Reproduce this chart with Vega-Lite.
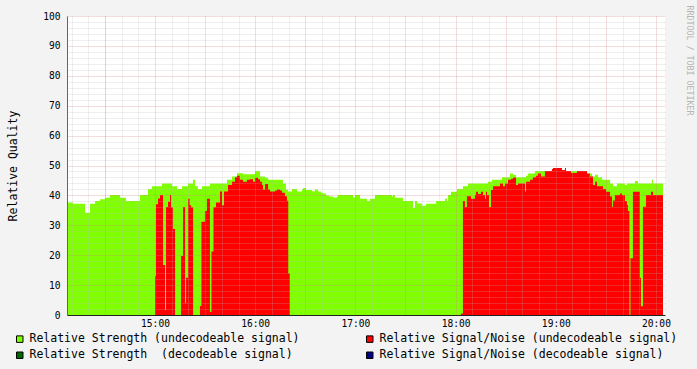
{
  "$schema": "https://vega.github.io/schema/vega-lite/v6.json",
  "width": 598,
  "height": 299,
  "autosize": "none",
  "padding": {"left": 67, "top": 16, "right": 32, "bottom": 54},
  "background": "#f3f3f3",
  "datasets": {
    "strength": [
      {"t": 847.3, "v": 38}, {"t": 847.9, "v": 37.6}, {"t": 850.9, "v": 37.2}, {"t": 858.1, "v": 34.2},
      {"t": 861.1, "v": 37.2}, {"t": 864.1, "v": 38.1}, {"t": 867.1, "v": 38.7}, {"t": 870.1, "v": 39.2},
      {"t": 873.1, "v": 40.1}, {"t": 879.0, "v": 39.2}, {"t": 882.6, "v": 38.1}, {"t": 891.0, "v": 40.1},
      {"t": 895.8, "v": 42.1}, {"t": 898.2, "v": 43.1}, {"t": 904.2, "v": 44.0}, {"t": 910.2, "v": 43.1},
      {"t": 913.2, "v": 42.1}, {"t": 916.2, "v": 43.1}, {"t": 919.8, "v": 44.0}, {"t": 922.8, "v": 45.2},
      {"t": 924.0, "v": 43.1}, {"t": 925.7, "v": 42.1}, {"t": 928.1, "v": 43.1}, {"t": 932.9, "v": 44.0},
      {"t": 943.1, "v": 45.2}, {"t": 946.1, "v": 46.3}, {"t": 949.1, "v": 47.4}, {"t": 952.7, "v": 47.1},
      {"t": 959.9, "v": 48.2}, {"t": 962.9, "v": 46.3}, {"t": 965.9, "v": 45.9}, {"t": 967.7, "v": 45.2},
      {"t": 976.6, "v": 44.0}, {"t": 978.4, "v": 42.0}, {"t": 979.6, "v": 41.3}, {"t": 982.0, "v": 42.1},
      {"t": 985.0, "v": 41.3}, {"t": 988.0, "v": 42.0}, {"t": 988.6, "v": 42.5}, {"t": 990.4, "v": 41.8},
      {"t": 994.0, "v": 41.4}, {"t": 995.8, "v": 42.0}, {"t": 997.6, "v": 41.3}, {"t": 999.4, "v": 40.9},
      {"t": 1000.6, "v": 40.6}, {"t": 1002.4, "v": 40.0}, {"t": 1004.2, "v": 39.6}, {"t": 1006.6, "v": 39.3},
      {"t": 1009.0, "v": 39.6}, {"t": 1009.6, "v": 40.1}, {"t": 1018.6, "v": 39.3}, {"t": 1019.8, "v": 40.1},
      {"t": 1022.8, "v": 38.9}, {"t": 1026.9, "v": 38.1}, {"t": 1028.7, "v": 38.9}, {"t": 1031.7, "v": 40.1},
      {"t": 1041.9, "v": 39.6}, {"t": 1042.5, "v": 40.1}, {"t": 1043.7, "v": 39.2}, {"t": 1048.5, "v": 38.1},
      {"t": 1054.5, "v": 35.8}, {"t": 1055.7, "v": 38.1}, {"t": 1056.9, "v": 37.3}, {"t": 1059.9, "v": 36.5},
      {"t": 1062.3, "v": 37.2}, {"t": 1068.3, "v": 38.1}, {"t": 1073.7, "v": 38.9}, {"t": 1074.9, "v": 38.1},
      {"t": 1075.5, "v": 40.1}, {"t": 1077.2, "v": 41.2}, {"t": 1080.8, "v": 42.1}, {"t": 1084.4, "v": 43.1},
      {"t": 1087.4, "v": 44.0}, {"t": 1099.4, "v": 44.6}, {"t": 1101.8, "v": 45.2}, {"t": 1107.8, "v": 46.1},
      {"t": 1112.6, "v": 47.3}, {"t": 1114.4, "v": 46.8}, {"t": 1116.2, "v": 46.1}, {"t": 1122.2, "v": 46.6},
      {"t": 1123.4, "v": 47.3}, {"t": 1127.5, "v": 48.2}, {"t": 1137.7, "v": 48.8}, {"t": 1138.3, "v": 49.2},
      {"t": 1143.7, "v": 48.5}, {"t": 1145.5, "v": 49.2}, {"t": 1146.1, "v": 48.2}, {"t": 1158.1, "v": 47.3},
      {"t": 1161.7, "v": 46.3}, {"t": 1163.5, "v": 46.9}, {"t": 1165.3, "v": 46.1}, {"t": 1167.7, "v": 45.2},
      {"t": 1172.5, "v": 44.0}, {"t": 1174.3, "v": 43.1}, {"t": 1176.6, "v": 44.0}, {"t": 1181.4, "v": 43.5},
      {"t": 1182.6, "v": 44.0}, {"t": 1187.4, "v": 44.8}, {"t": 1189.2, "v": 44.0}, {"t": 1197.6, "v": 45.2},
      {"t": 1198.2, "v": 44.0}, {"t": 1204.2, "v": 44.0}
    ],
    "snr": [
      {"t": 900.0, "v": 13}, {"t": 900.6, "v": 37}, {"t": 901.8, "v": 39}, {"t": 903.0, "v": 40.1},
      {"t": 904.8, "v": 16.7}, {"t": 906.0, "v": 1.7}, {"t": 906.6, "v": 36.1}, {"t": 907.8, "v": 37.9},
      {"t": 909.0, "v": 40.1}, {"t": 909.6, "v": 36}, {"t": 910.8, "v": 28.8}, {"t": 912.0, "v": 0},
      {"t": 915.6, "v": 19.7}, {"t": 916.8, "v": 36.1}, {"t": 918.0, "v": 3.9}, {"t": 918.6, "v": 12.5},
      {"t": 919.8, "v": 38.9}, {"t": 920.7, "v": 36.7}, {"t": 921.6, "v": 36}, {"t": 922.8, "v": 0},
      {"t": 926.9, "v": 3}, {"t": 927.8, "v": 31.2}, {"t": 929.9, "v": 34.8}, {"t": 931.1, "v": 38.9},
      {"t": 932.9, "v": 1}, {"t": 933.8, "v": 21.2}, {"t": 935.0, "v": 36}, {"t": 936.5, "v": 37.6},
      {"t": 938.9, "v": 41.3}, {"t": 940.1, "v": 36.7}, {"t": 941.3, "v": 41.3}, {"t": 943.7, "v": 43.5},
      {"t": 946.1, "v": 44.6}, {"t": 947.9, "v": 46.1}, {"t": 949.1, "v": 46.6}, {"t": 950.9, "v": 45.2},
      {"t": 952.7, "v": 44.6}, {"t": 955.1, "v": 45.2}, {"t": 956.9, "v": 45.4}, {"t": 958.7, "v": 44.6},
      {"t": 959.9, "v": 45.9}, {"t": 961.7, "v": 45.4}, {"t": 962.9, "v": 44.6}, {"t": 964.1, "v": 43.5},
      {"t": 964.7, "v": 42}, {"t": 965.9, "v": 43.8}, {"t": 967.7, "v": 42}, {"t": 968.9, "v": 41.3},
      {"t": 971.9, "v": 41.6}, {"t": 973.1, "v": 42}, {"t": 974.9, "v": 41.6}, {"t": 976.0, "v": 40.9},
      {"t": 977.8, "v": 39.7}, {"t": 979.0, "v": 38.2}, {"t": 979.8, "v": 13.9}, {"t": 980.8, "v": 0},
      {"t": 1083.2, "v": 0.5}, {"t": 1084.4, "v": 38.1}, {"t": 1085.6, "v": 36.1}, {"t": 1086.8, "v": 39.7},
      {"t": 1089.2, "v": 38.9}, {"t": 1091.6, "v": 40.1}, {"t": 1092.2, "v": 41.2}, {"t": 1093.4, "v": 40.5},
      {"t": 1095.2, "v": 41.2}, {"t": 1096.4, "v": 40.1}, {"t": 1097.6, "v": 38.9}, {"t": 1098.2, "v": 41.2},
      {"t": 1098.8, "v": 40.1}, {"t": 1100.0, "v": 36.1}, {"t": 1101.2, "v": 41.8}, {"t": 1102.4, "v": 43.1},
      {"t": 1106.6, "v": 44.0}, {"t": 1108.4, "v": 43.1}, {"t": 1109.6, "v": 44.0}, {"t": 1111.4, "v": 45.2},
      {"t": 1113.2, "v": 45.6}, {"t": 1114.4, "v": 46.0}, {"t": 1116.2, "v": 43.5}, {"t": 1117.4, "v": 44.0},
      {"t": 1121.6, "v": 41.3}, {"t": 1122.2, "v": 44.6}, {"t": 1124.6, "v": 45.2}, {"t": 1126.3, "v": 46.1},
      {"t": 1128.1, "v": 46.6}, {"t": 1129.3, "v": 47.3}, {"t": 1131.1, "v": 46.3}, {"t": 1133.5, "v": 48.2},
      {"t": 1137.7, "v": 48.8}, {"t": 1138.3, "v": 49.2}, {"t": 1143.7, "v": 48.5}, {"t": 1145.5, "v": 49.2},
      {"t": 1146.1, "v": 48.2}, {"t": 1149.1, "v": 47.5}, {"t": 1152.7, "v": 48.2}, {"t": 1158.7, "v": 47.3},
      {"t": 1160.5, "v": 46.3}, {"t": 1162.3, "v": 43.5}, {"t": 1163.5, "v": 44.6}, {"t": 1164.7, "v": 43.1},
      {"t": 1168.3, "v": 42.1}, {"t": 1170.1, "v": 41.2}, {"t": 1172.5, "v": 39.6}, {"t": 1173.7, "v": 36.2},
      {"t": 1174.3, "v": 38.3}, {"t": 1175.4, "v": 40.1}, {"t": 1178.4, "v": 40.6}, {"t": 1179.6, "v": 40.1},
      {"t": 1181.4, "v": 38.1}, {"t": 1182.6, "v": 36.8}, {"t": 1183.2, "v": 34.8}, {"t": 1184.1, "v": 0},
      {"t": 1184.7, "v": 19}, {"t": 1186.2, "v": 41.2}, {"t": 1190.4, "v": 12.5}, {"t": 1191.0, "v": 2.9},
      {"t": 1192.2, "v": 36.2}, {"t": 1194.0, "v": 40.1}, {"t": 1197.0, "v": 41.2}, {"t": 1198.2, "v": 40.1},
      {"t": 1204.2, "v": 40.1}
    ]
  },
  "resolve": {"axis": {"x": "independent", "y": "independent"}},
  "layer": [
    {
      "data": {"name": "strength"},
      "transform": [{"calculate": "'Relative Strength (undecodeable signal)'", "as": "series"}],
      "mark": {"type": "area", "interpolate": "step-after"},
      "encoding": {
        "x": {
          "field": "t", "type": "quantitative",
          "scale": {"domain": [847.3, 1205.4], "nice": false, "zero": false},
          "axis": {
            "orient": "top", "zindex": 1, "title": null, "labels": false, "ticks": false, "domain": false,
            "grid": true, "gridColor": "#b8b8b8", "gridOpacity": 0.45, "gridDash": [1, 1], "gridWidth": 1,
            "values": [850, 860, 870, 880, 890, 910, 920, 940, 950, 970, 980, 1000, 1010, 1030, 1040, 1060, 1070, 1090, 1100, 1120, 1130, 1150, 1160, 1180, 1190]
          }
        },
        "y": {
          "field": "v", "type": "quantitative", "stack": null,
          "scale": {"domain": [0, 100], "nice": false},
          "axis": {
            "orient": "right", "zindex": 1, "labels": false, "ticks": false, "domain": false,
            "grid": true, "gridColor": "#b8b8b8", "gridOpacity": 0.45, "gridDash": [1, 1], "gridWidth": 1,
            "values": [2, 4, 6, 8, 12, 14, 16, 18, 22, 24, 26, 28, 32, 34, 36, 38, 42, 44, 46, 48, 52, 54, 56, 58, 62, 64, 66, 68, 72, 74, 76, 78, 82, 84, 86, 88, 92, 94, 96, 98],
            "title": "RRDTOOL / TOBI OETIKER", "titleAngle": 90, "titleFont": "DejaVu Sans Mono", "titleFontSize": 8.3,
            "titleFontWeight": "normal", "titleColor": "#b4b4b4", "titleAlign": "left", "titleBaseline": "middle",
            "titleX": 23, "titleY": -11
          }
        },
        "color": {
          "field": "series", "type": "nominal",
          "scale": {
            "domain": ["Relative Strength (undecodeable signal)", "Relative Strength \u00a0(decodeable signal)", "Relative Signal/Noise (undecodeable signal)", "Relative Signal/Noise (decodeable signal)"],
            "range": ["#80ff00", "#006600", "#ff0000", "#000088"]
          },
          "legend": {
            "orient": "none", "legendX": -53, "legendY": 317, "columns": 2, "title": null,
            "symbolType": "square", "symbolSize": 42, "symbolStrokeColor": "black", "symbolStrokeWidth": 1,
            "symbolOpacity": 1,
            "labelFont": "DejaVu Sans Mono", "labelFontSize": 11.5, "labelColor": "black", "labelOffset": 4,
            "labelLimit": 0, "columnPadding": 64, "rowPadding": 3.5
          }
        }
      }
    },
    {
      "data": {"name": "snr"},
      "transform": [{"calculate": "'Relative Signal/Noise (undecodeable signal)'", "as": "series"}],
      "mark": {"type": "area", "interpolate": "step-after"},
      "encoding": {
        "x": {
          "field": "t", "type": "quantitative",
          "axis": {
            "orient": "bottom", "zindex": 1, "title": null, "ticks": false,
            "domain": true, "domainColor": "#222222", "domainWidth": 1,
            "grid": true, "gridColor": "#d08080", "gridOpacity": 0.55, "gridDash": [1, 1], "gridWidth": 1,
            "values": [870, 900, 930, 960, 990, 1020, 1050, 1080, 1110, 1140, 1170, 1200],
            "labelExpr": "datum.value % 60 == 0 ? floor(datum.value / 60) + ':00' : ''",
            "labelFont": "DejaVu Sans Mono", "labelFontSize": 9.6, "labelColor": "black", "labelPadding": 3,
            "labelBaseline": "top", "labelFlush": false, "labelOverlap": false
          }
        },
        "y": {
          "field": "v", "type": "quantitative", "stack": null,
          "axis": {
            "orient": "left", "zindex": 1, "ticks": false,
            "domain": true, "domainColor": "#666666", "domainWidth": 1,
            "grid": true, "gridColor": "#d08080", "gridOpacity": 0.55, "gridDash": [1, 1], "gridWidth": 1,
            "values": [0, 10, 20, 30, 40, 50, 60, 70, 80, 90, 100],
            "labelFont": "DejaVu Sans Mono", "labelFontSize": 9.6, "labelColor": "black", "labelPadding": 7,
            "labelFlush": false, "labelOverlap": false,
            "title": "Relative Quality", "titleFont": "DejaVu Sans Mono", "titleFontSize": 11.5,
            "titleFontWeight": "normal", "titleColor": "black", "titlePadding": 24
          }
        },
        "color": {"field": "series", "type": "nominal"}
      }
    }
  ],
  "config": {
    "view": {"fill": "white", "stroke": null}
  }
}
